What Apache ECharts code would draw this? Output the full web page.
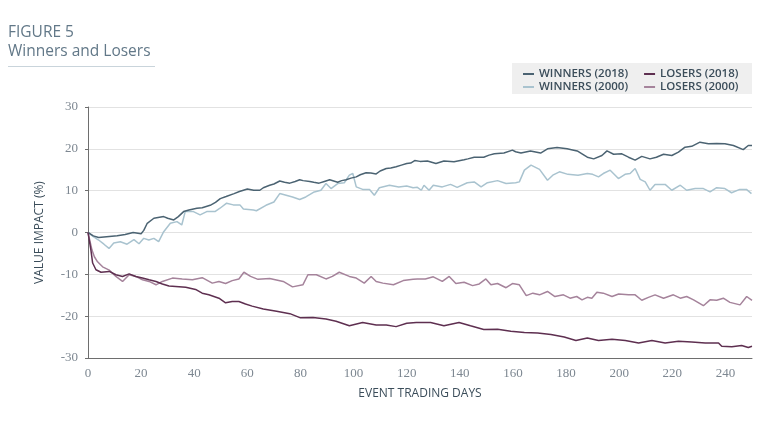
<!DOCTYPE html>
<html><head><meta charset="utf-8">
<script src="https://cdn.jsdelivr.net/npm/echarts@6/dist/echarts.min.js"></script>
<style>html,body{margin:0;padding:0;background:#fff}#c{width:760px;height:427px}</style>
</head><body><div id="c"></div>
<script>
const xTicks = [0,20,40,60,80,100,120,140,160,180,200,220,240];
const yTicks = [-30,-20,-10,0,10,20,30];

const winners2018Days = [0,2,4,7,11,14,17,20,21,22.3,24.8,28.5,30,32.3,34,36,38,41,43,46,48,49.8,52,55,57,60,62.4,64.7,66,68.4,70,72.2,74,76,78,79.7,81,83.5,85,87,89,91,92.5,94,95.5,97.2,99,101,102.5,104.7,106.5,108.5,110,112.3,114,116,118,120,121.5,123,125,127.8,131,134,137.8,141.6,143,145.4,149,151,153,156.6,159.8,161,163,166.6,170.4,173,176.6,180.4,182,184.2,186,188,190.4,193.5,195.4,197.9,201,203.5,206,208.5,211.6,214,216.7,219.8,222.3,224.8,227.3,230.4,233.6,236.7,239.8,243,246.7,248.6,250];
const winners2018Vals = [0,-0.8,-1.2,-1.0,-0.8,-0.5,0,-0.3,0.5,2.2,3.4,3.8,3.4,3.0,3.8,5.0,5.4,5.8,5.9,6.5,7.2,8.1,8.6,9.3,9.8,10.4,10.1,10.1,10.7,11.3,11.6,12.3,12.0,11.8,12.2,12.6,12.4,12.2,12.0,11.8,12.2,12.6,12.3,12.0,12.4,12.6,13.0,13.3,13.8,14.3,14.2,14.0,14.7,15.3,15.4,15.7,16.1,16.5,16.6,17.2,17.0,17.1,16.5,17.1,16.9,17.4,17.6,18.0,18.0,18.5,18.8,19.0,19.7,19.3,19.0,19.5,19.0,20.0,20.3,20.0,19.8,19.5,18.8,18.0,17.6,18.4,19.5,18.7,18.8,18.0,17.3,18.2,17.6,18.0,18.7,18.4,19.2,20.4,20.6,21.6,21.2,21.3,21.2,20.8,19.8,20.8,20.8];

const winners2000Days = [0,2,4,6,7.9,9.7,12.2,14.7,17.3,19.2,21,22.9,24.8,26.6,28.5,31,33.5,35.3,36.6,39.7,42.2,44.7,47.8,49.7,52.2,54.7,57.2,58.5,62.3,63.4,67,70,72.2,74.6,77,79.7,82,85.2,87.7,89.6,91.5,94,96.5,98.4,99.7,101,103.4,106,107.8,109.7,113.5,117,120,122.4,124,125.5,126.5,128.4,130,133.4,136.5,139,142.8,145.4,148,150.4,154.2,157.4,161,162.4,164.3,166.8,170,173,175,177.5,180.7,184.5,188,190,192.2,194,196.6,199.7,202.2,204.1,206,207.9,209.8,211.6,213.5,217.3,219.8,223,225.4,228.6,231.7,234.2,236.7,239.8,242.3,245.4,247.9,249.8];
const winners2000Vals = [0,-1.0,-1.8,-2.8,-3.8,-2.5,-2.2,-2.8,-1.7,-2.7,-1.4,-1.8,-1.4,-2.2,0.2,2.2,2.6,1.8,5.0,5.0,4.2,5.0,5.0,5.8,7.0,6.6,6.6,5.6,5.4,5.2,6.5,7.3,9.3,8.9,8.5,7.9,8.5,9.7,10.1,11.7,10.5,11.7,11.9,13.7,14.1,10.9,10.3,10.3,8.9,10.7,11.3,10.9,11.1,10.7,10.8,10.1,11.3,10.1,11.3,10.9,11.5,10.8,11.9,12.1,10.9,11.9,12.4,11.7,11.9,12.1,14.9,16.1,15.1,12.5,13.7,14.5,13.9,13.7,14.1,13.9,13.3,14.1,14.9,12.9,13.9,14.1,15.3,12.7,12.1,10.1,11.5,11.5,10.1,11.3,10.1,10.5,10.5,9.7,10.7,10.5,9.5,10.3,10.3,9.3];

const losers2018Days = [0,1.1,1.75,3,4.9,8,10.5,13,15.5,18,20.5,23,25.6,28,30.5,33,36.8,40.5,43,45.5,49.3,51.8,54.3,56.8,59.3,61.8,66,71,76,80,84.7,89.6,93.4,98.4,103.4,108.5,112.3,116,120,123.6,129,134,139.7,144,149,154.2,159.2,164.3,169.3,174.3,179.3,183.7,188,192.2,197.3,202.3,207.3,212.3,217.3,222.3,227.3,232.4,237.4,238.6,242.4,246.1,248.6,250];
const losers2018Vals = [0,-4.2,-7.3,-8.9,-9.5,-9.3,-10.1,-10.5,-9.9,-10.5,-10.9,-11.3,-11.7,-12.3,-12.8,-12.9,-13.1,-13.6,-14.5,-14.9,-15.7,-16.8,-16.5,-16.5,-17.1,-17.6,-18.3,-18.8,-19.4,-20.4,-20.3,-20.7,-21.2,-22.3,-21.5,-22.1,-22.1,-22.5,-21.7,-21.5,-21.5,-22.3,-21.5,-22.3,-23.2,-23.1,-23.6,-23.9,-24.0,-24.4,-25.0,-25.8,-25.2,-25.8,-25.5,-25.8,-26.4,-25.8,-26.4,-26.0,-26.2,-26.4,-26.4,-27.2,-27.3,-27.0,-27.5,-27.2];

const losers2000Days = [0,1.5,2.4,3.6,5.5,8,10.5,13,15.5,18,20.5,23,25.6,28,31.8,35.5,39.3,43,46.8,49.3,51.8,54.3,56.8,58.7,61.2,64,68.4,73.5,77,80.9,82.8,86,89.6,92,94.6,98.4,101,104,106.6,108.5,111,115,118.7,122.4,124,127,130,133.4,136,138.5,141.6,144.8,147.3,149.8,151.7,154.2,157.4,159.8,162.4,165,167.5,170,173,175.8,179,181.5,184,186,188,189.7,191.6,194,197.3,199.8,203.5,206,208.5,211,213.5,216.7,220.4,223,225.4,228,231.7,234.2,236.7,239.2,241.7,245.5,248,250];
const losers2000Vals = [0,-4.2,-5.8,-7.0,-8.2,-9.0,-10.5,-11.7,-10.1,-10.5,-11.3,-11.7,-12.5,-11.7,-10.9,-11.1,-11.3,-10.8,-12.1,-11.7,-12.2,-11.5,-11.1,-9.5,-10.5,-11.2,-11.0,-11.7,-13.0,-12.5,-10.1,-10.1,-11.1,-10.5,-9.5,-10.5,-10.9,-12.1,-10.5,-11.7,-12.1,-12.5,-11.5,-11.2,-11.1,-11.1,-10.6,-11.7,-10.5,-12.2,-11.9,-12.7,-12.3,-11.1,-12.5,-12.2,-13.2,-12.2,-12.5,-15.1,-14.5,-14.9,-14.1,-15.3,-14.9,-15.7,-15.3,-16.1,-15.5,-15.7,-14.3,-14.5,-15.3,-14.7,-14.9,-14.9,-16.2,-15.5,-14.9,-15.7,-14.9,-15.7,-15.3,-16.1,-17.5,-16.1,-16.2,-15.7,-16.7,-17.3,-15.3,-16.2];

const seriesNames = ['WINNERS (2018)','LOSERS (2018)','WINNERS (2000)','LOSERS (2000)'];
const seriesColors = ['#4b6372','#5e2f50','#a9c3cf','#a5839b'];

function pairs(d, v){ return d.map((x,i)=>[x, v[i]]); }
const seriesData = [
  pairs(winners2018Days, winners2018Vals),
  pairs(losers2018Days, losers2018Vals),
  pairs(winners2000Days, winners2000Vals),
  pairs(losers2000Days, losers2000Vals)
];

const chart = echarts.init(document.getElementById('c'), null, {renderer:'canvas'});
const tickFont = {fontFamily:'Liberation Serif', fontSize:13, color:'#7d8791'};
const legendText = {fontFamily:'Open Sans', fontSize:11.5, fontWeight:600, color:'#3b4d5a'};
const nameFont = {fontFamily:'Open Sans', fontSize:12, fontWeight:500, color:'#3b4d5a'};
chart.setOption({
  animation:false,
  backgroundColor:'#ffffff',
  graphic:[
    {type:'text', left:8, top:25, style:{text:'FIGURE 5', font:'15.5px "Open Sans"', fill:'#627888'}},
    {type:'text', left:8, top:44, style:{text:'Winners and Losers', font:'15.5px "Open Sans"', fill:'#627888'}},
    {type:'rect', shape:{x:8,y:66,width:147,height:1}, style:{fill:'#c9d4db'}},
    {type:'rect', shape:{x:512,y:63,width:240,height:31}, style:{fill:'#efefef'}, z:-1}
  ],
  legend:[
    {data:[seriesNames[0],seriesNames[1]], left:523, top:68, padding:0, itemGap:16, itemWidth:11, itemHeight:2, icon:'rect', textStyle:legendText},
    {data:[seriesNames[2],seriesNames[3]], left:523, top:81, padding:0, itemGap:16, itemWidth:11, itemHeight:2, icon:'rect', textStyle:legendText}
  ],
  grid:{left:88, right:8, top:107, bottom:69, containLabel:false},
  xAxis:{
    type:'value', min:0, max:250, interval:20,
    name:'EVENT TRADING DAYS', nameLocation:'middle', nameGap:30,
    nameTextStyle:nameFont,
    axisLine:{show:true, onZero:false, lineStyle:{color:'#6e6e6e', width:1}},
    axisTick:{show:false},
    splitLine:{show:false},
    axisLabel:Object.assign({margin:9, showMaxLabel:false, formatter:(v)=> xTicks.includes(v)? String(v):''}, tickFont)
  },
  yAxis:{
    type:'value', min:-30, max:30, interval:10,
    name:'VALUE IMPACT (%)', nameLocation:'middle', nameGap:42,
    nameTextStyle:nameFont,
    axisLine:{show:true, lineStyle:{color:'#6e6e6e', width:1}},
    axisTick:{show:true, length:3, lineStyle:{color:'#6e6e6e'}},
    splitLine:{show:true, lineStyle:{color:'#e2e2e2', width:1}},
    axisLabel:Object.assign({margin:10, formatter:(v)=> yTicks.includes(v)? String(v):''}, tickFont)
  },
  series: seriesNames.map((n,i)=>({
    name:n, type:'line', data:seriesData[i], showSymbol:false, symbol:'none',
    lineStyle:{color:seriesColors[i], width:1.5}, itemStyle:{color:seriesColors[i]},
    z: i<2 ? 3 : 2
  }))
});
</script></body></html>
